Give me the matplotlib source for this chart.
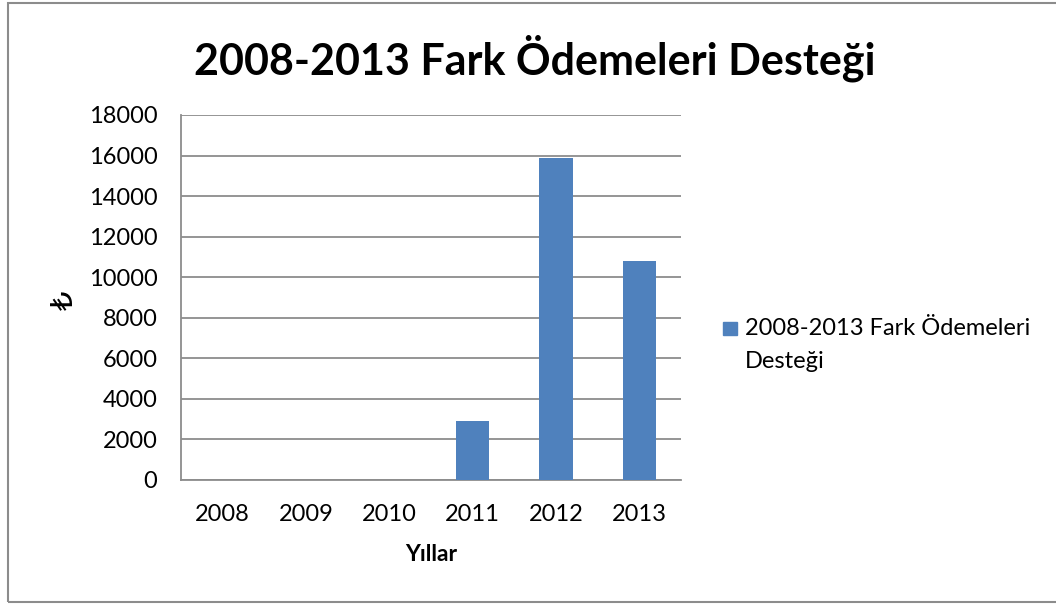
import matplotlib.pyplot as plt
from matplotlib.patches import Rectangle
import numpy as np

# chart data
years = ['2008', '2009', '2010', '2011', '2012', '2013']
support = [0, 0, 0, 2910, 15890, 10810]
series_name = '2008-2013 Fark Ödemeleri Desteği'
yticks = list(range(0, 18001, 2000))

plt.rcParams['font.family'] = ['Lato', 'DejaVu Sans']

fig = plt.figure(figsize=(10.56, 6.04), dpi=100)
fig.patch.set_facecolor('white')

# outer chart border (right edge is cut off in the reference)
fig.add_artist(Rectangle((8 / 1056, 2 / 604), 1.2, 599 / 604, transform=fig.transFigure,
                         fill=False, edgecolor='#8c8c8c', linewidth=1.5))

ax = fig.add_axes([181 / 1056, 1 - 480 / 604, 500 / 1056, 365 / 604])
x = np.arange(len(years))
ax.bar(x, support, width=0.4, color='#4f81bd', zorder=3, label=series_name)

ax.set_xlim(-0.5, len(years) - 0.5)
ax.set_ylim(0, 18000)
ax.set_yticks(yticks)
ax.set_xticks(x)
ax.set_xticklabels(years)
ax.yaxis.grid(True, color='#8c8c8c', linewidth=1.3, zorder=0)
ax.tick_params(axis='both', length=0, labelsize=17)
ax.tick_params(axis='y', pad=17)
ax.tick_params(axis='x', pad=17)

for side in ['top', 'right']:
    ax.spines[side].set_visible(False)
for side in ['left', 'bottom']:
    ax.spines[side].set_color('#8c8c8c')
    ax.spines[side].set_linewidth(1.3)

ax.set_xlabel('Yıllar', fontsize=16.5, fontweight='bold', labelpad=14)
fig.text(64 / 1056, 1 - 300 / 604, '₺', rotation=90, fontsize=22,
         ha='center', va='center', family=['DejaVu Sans'])

fig.text(535 / 1056, 1 - 58 / 604, series_name, fontsize=31, fontweight='bold',
         ha='center', va='center')

# legend drawn by hand to get the wrapped label
fig.add_artist(Rectangle((723 / 1056, 1 - 335 / 604), 14 / 1056, 13 / 604,
                         transform=fig.transFigure, color='#4f81bd'))
fig.text(745 / 1056, 1 - 329 / 604, '2008-2013 Fark Ödemeleri', fontsize=17,
         ha='left', va='center')
fig.text(745 / 1056, 1 - 361 / 604, 'Desteği', fontsize=17, ha='left', va='center')

fig.savefig('out.png', dpi=100)
